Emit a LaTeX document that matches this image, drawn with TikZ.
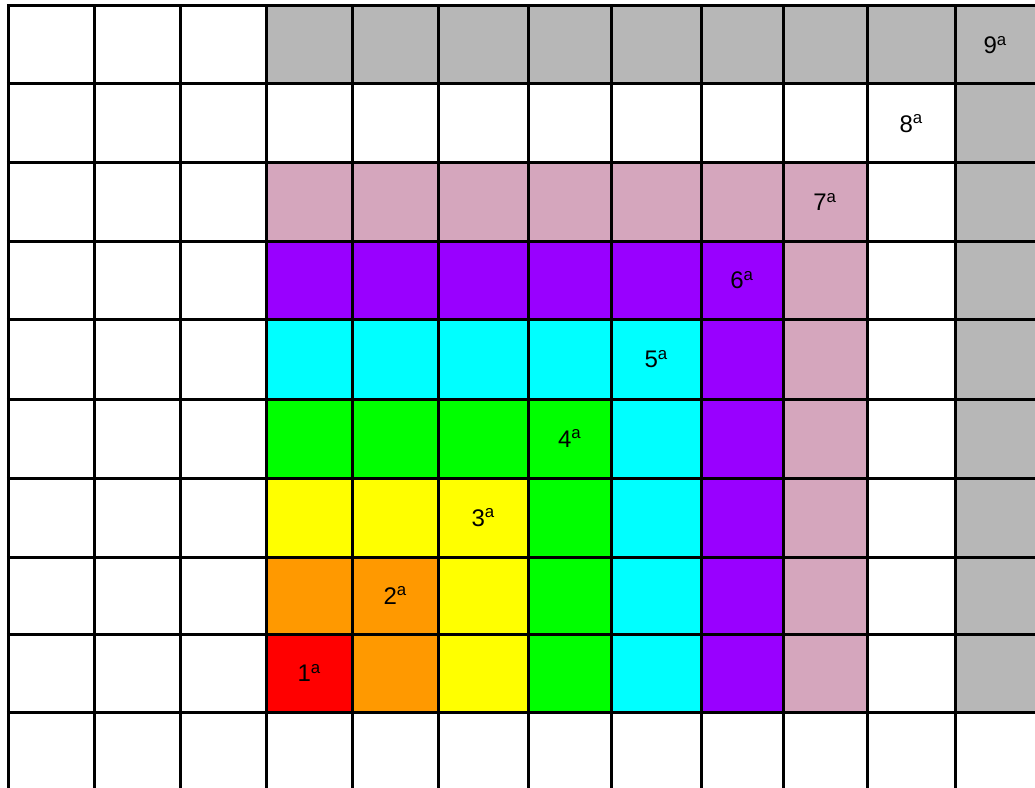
\documentclass[tikz,border=0pt]{standalone}
\usepackage{fontspec}
\setmainfont{Liberation Sans}
\definecolor{L1}{HTML}{FF0000}
\definecolor{L2}{HTML}{FF9900}
\definecolor{L3}{HTML}{FFFF00}
\definecolor{L4}{HTML}{00FF00}
\definecolor{L5}{HTML}{00FFFF}
\definecolor{L6}{HTML}{9900FF}
\definecolor{L7}{HTML}{D5A6BD}
\definecolor{L8}{HTML}{FFFFFF}
\definecolor{L9}{HTML}{B7B7B7}
\begin{document}
\begin{tikzpicture}[x=0.75pt,y=-0.75pt,
  gridline/.style={line width=2.25pt,black},
  lab/.style={font=\fontsize{18}{20}\selectfont,inner sep=0pt}]
\useasboundingbox (0,0) rectangle (1035,788);
\fill[white] (0,0) rectangle (1035,788);
\def\xs{{8,94,180,266.5,352,438.5,528,611.5,701,783,867,955.5,1035}}
\def\ys{{6,84,163,241,319,399,478,557,634,712,788}}
% coloured cells
\foreach \i in {0,...,8}{
  \foreach \j in {0,...,8}{
    \pgfmathtruncatemacro\k{max(\i,\j)+1}
    \pgfmathtruncatemacro\ca{\i+3}
    \pgfmathtruncatemacro\cb{\i+4}
    \pgfmathtruncatemacro\ra{8-\j}
    \pgfmathtruncatemacro\rb{9-\j}
    \pgfmathsetmacro\xa{\xs[\ca]}
    \pgfmathsetmacro\xb{\xs[\cb]}
    \pgfmathsetmacro\ya{\ys[\ra]}
    \pgfmathsetmacro\yb{\ys[\rb]}
    \fill[L\k] (\xa,\ya) rectangle (\xb,\yb);
  }
}
% grid lines
\foreach \r in {0,...,9}{
  \pgfmathsetmacro\yy{\ys[\r]}
  \draw[gridline] (6.9,\yy) -- (1036,\yy);
}
\foreach \c in {0,...,11}{
  \pgfmathsetmacro\xx{\xs[\c]}
  \draw[gridline] (\xx,4.9) -- (\xx,789);
}
% labels
\foreach \i in {0,...,8}{
  \pgfmathtruncatemacro\k{\i+1}
  \pgfmathtruncatemacro\ca{\i+3}
  \pgfmathtruncatemacro\cb{\i+4}
  \pgfmathtruncatemacro\ra{8-\i}
  \pgfmathtruncatemacro\rb{9-\i}
  \pgfmathsetmacro\xa{\xs[\ca]}
  \pgfmathsetmacro\xb{\xs[\cb]}
  \pgfmathsetmacro\ya{\ys[\ra]}
  \pgfmathsetmacro\yb{\ys[\rb]}
  \pgfmathsetmacro\xc{(\xa+\xb)/2}
  \pgfmathsetmacro\yc{(\ya+\yb)/2}
  \node[lab] (lab\k) at (\xc,\yc) {\k\textsuperscript{a}};
}
\end{tikzpicture}
\end{document}
